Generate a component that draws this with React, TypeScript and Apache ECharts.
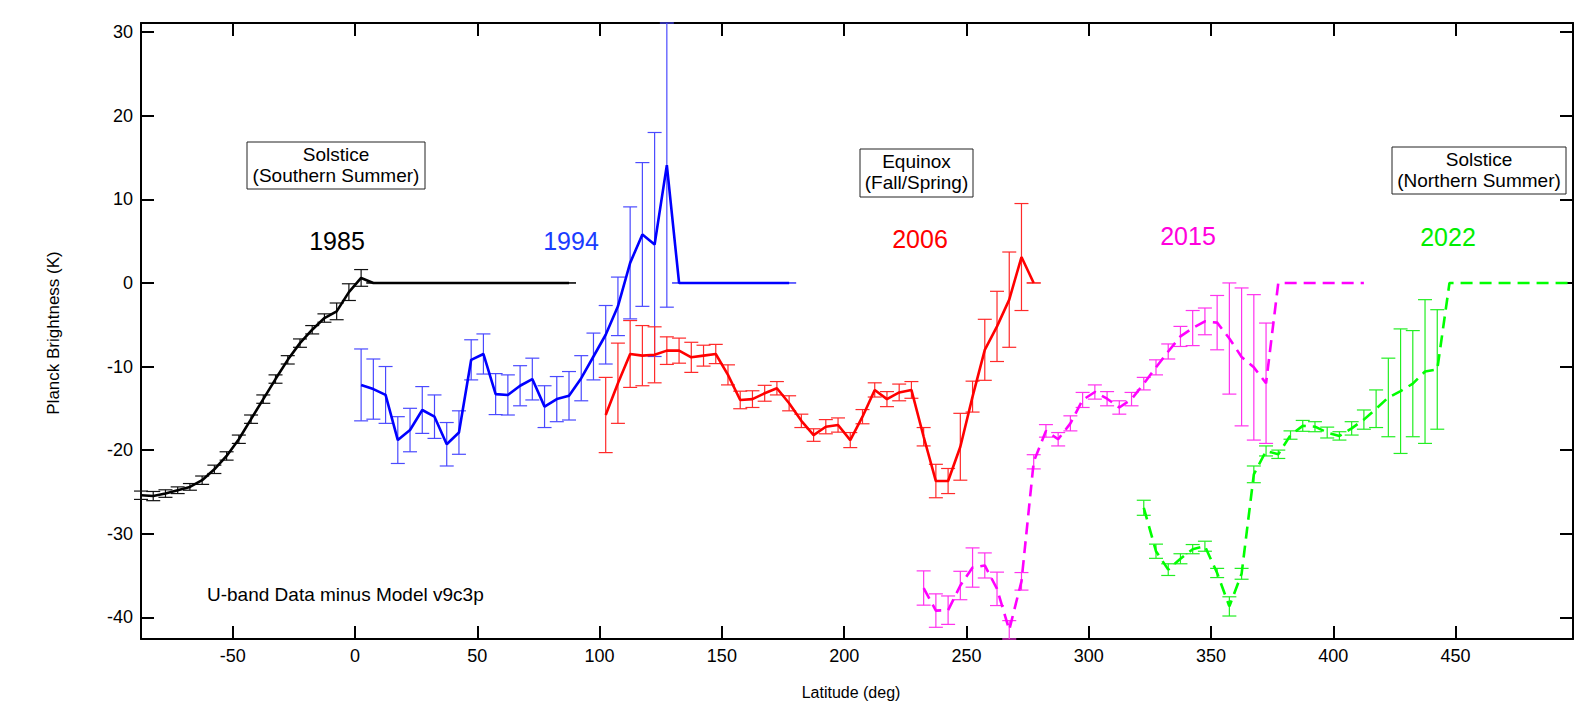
import React, { useEffect, useRef } from "react";
import * as echarts from "echarts";

const FONT = "'Liberation Sans', Arial, Helvetica, sans-serif";

const X_TICKS = [-50, 0, 50, 100, 150, 200, 250, 300, 350, 400, 450];
const Y_TICKS = [-40, -30, -20, -10, 0, 10, 20, 30];

// 1985 (black, solid)
const LAT_1985 = [-87.5, -82.5, -77.5, -72.5, -67.5, -62.5, -57.5, -52.5, -47.5, -42.5, -37.5, -32.5, -27.5, -22.5, -17.5, -12.5, -7.5, -2.5, 2.5,
  7.5, 12.5, 17.5, 22.5, 27.5, 32.5, 37.5, 42.5, 47.5, 52.5, 57.5, 62.5, 67.5, 72.5, 77.5, 82.5, 87.5];
const VAL_1985 = [-25.4, -25.5, -25.2, -24.8, -24.4, -23.6, -22.3, -20.7, -18.7, -16.3, -13.9, -11.5, -9.2, -7.2, -5.6, -4.2, -3.4, -1.1, 0.6,
  0, 0, 0, 0, 0, 0, 0, 0, 0, 0, 0, 0, 0, 0, 0, 0, 0];
const ERR_1985 = [0.5, 0.55, 0.45, 0.4, 0.4, 0.5, 0.5, 0.5, 0.5, 0.5, 0.5, 0.5, 0.5, 0.5, 0.5, 0.5, 1.0, 1.0, 1.0,
  0, 0, 0, 0, 0, 0, 0, 0, 0, 0, 0, 0, 0, 0, 0, 0, 0];

// 1994 (blue, solid)
const LAT_1994 = [2.5, 7.5, 12.5, 17.5, 22.5, 27.5, 32.5, 37.5, 42.5, 47.5, 52.5, 57.5, 62.5, 67.5, 72.5, 77.5, 82.5, 87.5, 92.5, 97.5,
  102.5, 107.5, 112.5, 117.5, 122.5, 127.5, 132.5, 137.5, 142.5, 147.5, 152.5, 157.5, 162.5, 167.5, 172.5, 177.5];
const VAL_1994 = [-12.2, -12.7, -13.4, -18.8, -17.6, -15.2, -16.0, -19.3, -17.9, -9.2, -8.5, -13.3, -13.4, -12.3, -11.5, -14.8, -13.9, -13.5, -11.4, -8.8,
  -6.2, -2.8, 2.4, 5.8, 4.6, 14.1, 0, 0, 0, 0, 0, 0, 0, 0, 0, 0];
const ERR_1994 = [4.3, 3.6, 3.4, 2.8, 2.6, 2.8, 2.6, 2.6, 2.6, 2.4, 2.4, 2.45, 2.4, 2.4, 2.5, 2.5, 2.7, 2.9, 2.7, 2.8,
  3.5, 3.5, 6.7, 8.6, 13.4, 17.0, 0, 0, 0, 0, 0, 0, 0, 0, 0, 0];

// 2006 (red, solid)
const LAT_2006 = [102.5, 107.5, 112.5, 117.5, 122.5, 127.5, 132.5, 137.5, 142.5, 147.5, 152.5, 157.5, 162.5, 167.5, 172.5, 177.5, 182.5, 187.5,
  192.5, 197.5, 202.5, 207.5, 212.5, 217.5, 222.5, 227.5, 232.5, 237.5, 242.5, 247.5, 252.5, 257.5, 262.5, 267.5, 272.5, 277.5];
const VAL_2006 = [-15.8, -12.0, -8.5, -8.7, -8.6, -8.1, -8.1, -8.9, -8.7, -8.5, -11.0, -14.0, -13.9, -13.2, -12.6, -14.4, -16.5, -18.2,
  -17.2, -17.0, -18.8, -16.0, -12.8, -13.9, -13.1, -12.8, -18.4, -23.7, -23.7, -19.6, -13.6, -8.0, -5.2, -2.0, 3.1, 0];
const ERR_2006 = [4.5, 4.8, 4.0, 3.6, 3.35, 1.65, 1.5, 1.8, 1.25, 1.15, 1.2, 1.05, 1.0, 0.95, 0.8, 0.9, 0.8, 0.75,
  0.85, 0.85, 0.9, 0.85, 0.85, 0.9, 1.0, 1.0, 1.1, 2.0, 1.5, 4.0, 1.85, 3.65, 4.2, 5.7, 6.4, 0];

// 2015 (magenta, dashed)
const LAT_2015 = [232.5, 237.5, 242.5, 247.5, 252.5, 257.5, 262.5, 267.5, 272.5, 277.5, 282.5, 287.5, 292.5, 297.5, 302.5, 307.5, 312.5,
  317.5, 322.5, 327.5, 332.5, 337.5, 342.5, 347.5, 352.5, 357.5, 362.5, 367.5, 372.5,
  377.5, 382.5, 387.5, 392.5, 397.5, 402.5, 407.5, 412.5];
const VAL_2015 = [-36.5, -39.2, -39.15, -36.2, -34.05, -33.8, -36.6, -41.5, -35.7, -21.4, -17.7, -18.7, -16.8, -14.0, -13.05, -13.85, -14.9,
  -13.9, -12.05, -10.1, -8.2, -6.4, -5.4, -4.6, -4.75, -6.65, -8.85, -10.1, -12.0,
  0, 0, 0, 0, 0, 0, 0, 0];
const ERR_2015 = [2.05, 2.0, 1.7, 1.7, 2.35, 1.5, 2.0, 1.1, 1.05, 0.85, 0.75, 0.8, 0.9, 0.9, 0.85, 0.85, 0.8,
  0.8, 0.75, 0.9, 0.9, 1.2, 2.1, 1.6, 3.25, 6.65, 8.25, 8.7, 7.2,
  null, null, null, null, null, null, null, null];

// 2022 (green, dashed)
const LAT_2022 = [322.5, 327.5, 332.5, 337.5, 342.5, 347.5, 352.5, 357.5, 362.5, 367.5, 372.5, 377.5, 382.5, 387.5, 392.5, 397.5, 402.5,
  407.5, 412.5, 417.5, 422.5, 427.5, 432.5, 437.5, 442.5,
  447.5, 452.5, 457.5, 462.5, 467.5, 472.5, 477.5, 482.5, 487.5, 492.5, 497.5];
const VAL_2022 = [-26.9, -32.1, -34.3, -33.0, -31.85, -31.5, -34.7, -38.7, -34.8, -22.9, -20.1, -20.5, -18.2, -17.1, -17.2, -17.9, -18.3,
  -17.4, -16.35, -15.05, -13.7, -12.95, -12.05, -10.6, -10.35,
  0, 0, 0, 0, 0, 0, 0, 0, 0, 0, 0];
const ERR_2022 = [0.9, 0.85, 0.7, 0.6, 0.55, 0.6, 0.55, 1.15, 0.65, 1.0, 0.6, 0.5, 0.5, 0.65, 0.6, 0.65, 0.5,
  0.8, 1.15, 2.25, 4.7, 7.45, 6.35, 8.6, 7.15,
  null, null, null, null, null, null, null, null, null, null, null];

const SERIES_DEF = [
  { name: "1985", lat: LAT_1985, val: VAL_1985, err: ERR_1985, color: "#000000", bar: "#111111", dashed: false },
  { name: "1994", lat: LAT_1994, val: VAL_1994, err: ERR_1994, color: "#0000ff", bar: "#4a4aff", dashed: false },
  { name: "2006", lat: LAT_2006, val: VAL_2006, err: ERR_2006, color: "#ff0000", bar: "#ff2a2a", dashed: false },
  { name: "2015", lat: LAT_2015, val: VAL_2015, err: ERR_2015, color: "#ff00ff", bar: "#ff33ee", dashed: true },
  { name: "2022", lat: LAT_2022, val: VAL_2022, err: ERR_2022, color: "#00ff00", bar: "#22ee22", dashed: true },
];

const X_MIN = -87.5;
const X_MAX = 498;
const Y_MIN = -42.6;
const Y_MAX = 31.1;

function makeErrRender(color: string) {
  return (params: any, api: any) => {
    const x = api.value(0);
    const y = api.value(1);
    const e = api.value(2);
    if (e === null || e === undefined || isNaN(e)) return null;
    const c = api.coord([x, y]);
    const hi = api.coord([x, y + e]);
    const lo = api.coord([x, y - e]);
    const cs = params.coordSys;
    const top = Math.max(hi[1], cs.y);
    const bot = Math.min(lo[1], cs.y + cs.height);
    const half = 7;
    const st = { stroke: color, lineWidth: 1.2 };
    const children: any[] = [
      { type: "line", shape: { x1: c[0], y1: top, x2: c[0], y2: bot }, style: st },
    ];
    if (hi[1] >= cs.y - 0.5) {
      children.push({ type: "line", shape: { x1: c[0] - half, y1: hi[1], x2: c[0] + half, y2: hi[1] }, style: st });
    }
    if (lo[1] <= cs.y + cs.height + 0.5) {
      children.push({ type: "line", shape: { x1: c[0] - half, y1: lo[1], x2: c[0] + half, y2: lo[1] }, style: st });
    }
    return { type: "group", children };
  };
}

export default function App() {
  const ref = useRef<HTMLDivElement>(null);
  useEffect(() => {
    if (!ref.current) return;
    const chart = echarts.init(ref.current, null, { renderer: "svg" });

    const series: any[] = [];
    SERIES_DEF.forEach((s) => {
      series.push({
        type: "line",
        name: s.name,
        xAxisIndex: 0,
        yAxisIndex: 0,
        data: s.lat.map((x, i) => [x, s.val[i]]),
        showSymbol: false,
        symbol: "none",
        lineStyle: { color: s.color, width: 2.6, type: s.dashed ? [12, 7] : "solid" },
        z: 3,
        silent: true,
      });
      series.push({
        type: "custom",
        name: s.name + " err",
        xAxisIndex: 0,
        yAxisIndex: 0,
        data: s.lat.map((x, i) => [x, s.val[i], s.err[i]]),
        encode: { x: 0, y: 1 },
        renderItem: makeErrRender(s.bar),
        z: 2,
        silent: true,
      });
    });

    const axisLine = { show: true, onZero: false, lineStyle: { color: "#000", width: 2 } };
    const tick = { show: true, inside: true, length: 13, lineStyle: { color: "#000", width: 2 } };

    const boxes = [
      { x: 247, y: 142, w: 178, h: 47, lines: ["Solstice", "(Southern Summer)"] },
      { x: 860, y: 149, w: 113, h: 48, lines: ["Equinox", "(Fall/Spring)"] },
      { x: 1392, y: 147, w: 174, h: 47, lines: ["Solstice", "(Northern Summer)"] },
    ];
    const years = [
      { t: "1985", x: 337, y: 241, c: "#000000" },
      { t: "1994", x: 571, y: 241, c: "#1a3cff" },
      { t: "2006", x: 920, y: 239, c: "#ff0000" },
      { t: "2015", x: 1188, y: 236, c: "#ff00dd" },
      { t: "2022", x: 1448, y: 237, c: "#00ee00" },
    ];

    const graphic: any[] = [];
    boxes.forEach((b) => {
      graphic.push({
        type: "rect",
        shape: { x: b.x, y: b.y, width: b.w, height: b.h },
        style: { fill: "#fff", stroke: "#222", lineWidth: 1 },
        z: 10,
      });
      b.lines.forEach((ln, i) => {
        graphic.push({
          type: "text",
          x: b.x + b.w / 2,
          y: b.y + 12 + i * 21,
          style: { text: ln, fill: "#000", font: `19px ${FONT}`, textAlign: "center", textVerticalAlign: "middle" },
          z: 11,
        });
      });
    });
    years.forEach((yl) => {
      graphic.push({
        type: "text",
        x: yl.x,
        y: yl.y,
        style: { text: yl.t, fill: yl.c, font: `25px ${FONT}`, textAlign: "center", textVerticalAlign: "middle" },
        z: 11,
      });
    });
    graphic.push({
      type: "text",
      x: 207,
      y: 594,
      style: { text: "U-band Data minus Model v9c3p", fill: "#000", font: `19px ${FONT}`, textAlign: "left", textVerticalAlign: "middle" },
      z: 11,
    });
    graphic.push({
      type: "text",
      x: 851,
      y: 692,
      style: { text: "Latitude (deg)", fill: "#000", font: `16px ${FONT}`, textAlign: "center", textVerticalAlign: "middle" },
      z: 11,
    });
    graphic.push({
      type: "text",
      x: 53,
      y: 333,
      rotation: Math.PI / 2,
      style: { text: "Planck Brightness (K)", fill: "#000", font: `17px ${FONT}`, textAlign: "center", textVerticalAlign: "middle" },
      z: 11,
    });

    chart.setOption({
      animation: false,
      backgroundColor: "#ffffff",
      grid: { left: 141, right: 20, top: 23, bottom: 73, containLabel: false },
      xAxis: [
        {
          type: "value",
          position: "bottom",
          min: X_MIN,
          max: X_MAX,
          axisLine,
          axisTick: { ...tick, customValues: X_TICKS },
          axisLabel: { show: true, customValues: X_TICKS, color: "#000", fontSize: 18, fontFamily: FONT, margin: 8 },
          splitLine: { show: false },
        },
        {
          type: "value",
          position: "top",
          min: X_MIN,
          max: X_MAX,
          axisLine,
          axisTick: { ...tick, customValues: X_TICKS },
          axisLabel: { show: false },
          splitLine: { show: false },
        },
      ],
      yAxis: [
        {
          type: "value",
          position: "left",
          min: Y_MIN,
          max: Y_MAX,
          axisLine,
          axisTick: { ...tick, customValues: Y_TICKS },
          axisLabel: { show: true, customValues: Y_TICKS, color: "#000", fontSize: 18, fontFamily: FONT, margin: 8 },
          splitLine: { show: false },
        },
        {
          type: "value",
          position: "right",
          min: Y_MIN,
          max: Y_MAX,
          axisLine,
          axisTick: { ...tick, customValues: Y_TICKS },
          axisLabel: { show: false },
          splitLine: { show: false },
        },
      ],
      series,
      graphic,
    });
    return () => chart.dispose();
  }, []);
  return (
    <div
      ref={ref}
      style={{ position: "absolute", left: 0, top: 0, width: 1593, height: 712, background: "#fff" }}
    />
  );
}
